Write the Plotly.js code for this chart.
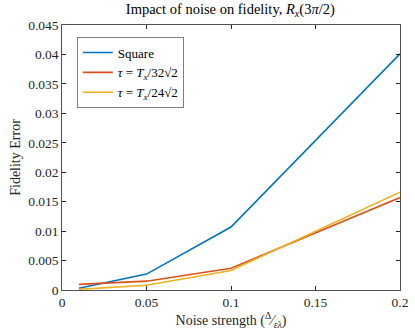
<!DOCTYPE html>
<html>
<head>
<meta charset="utf-8">
<script src="https://cdn.plot.ly/plotly-3.0.1.min.js"></script>
<style>
  html, body { margin: 0; padding: 0; background: #fff; }
  #grafico { width: 415px; height: 336px; }
</style>
</head>
<body>
<div id="grafico"></div>
<script>
// valores
var noise = [0.01, 0.05, 0.1, 0.2];
var errSquare = [0.0003, 0.0027, 0.0107, 0.0401];
var errTau32 = [0.00095, 0.0015, 0.0037, 0.0157];
var errTau24 = [0.0001, 0.0008, 0.0033, 0.0166];

var xTicks = [0, 0.05, 0.1, 0.15, 0.2];
var xLabels = ['0', '0.05', '0.1', '0.15', '0.2'];
var yTicks = [0, 0.005, 0.01, 0.015, 0.02, 0.025, 0.03, 0.035, 0.04, 0.045];
var yLabels = ['0', '0.005', '0.01', '0.015', '0.02', '0.025', '0.03', '0.035', '0.04', '0.045'];

var nomes = [
    'Square',
    '<i>τ</i> = <i>T</i><sub><i>x</i></sub>/32√2',
    '<i>τ</i> = <i>T</i><sub><i>x</i></sub>/24√2'
];
var cores = ['#0072BD', '#D95319', '#EDB120'];
var series = [errSquare, errTau32, errTau24];

var dados = [];
for (var i = 0; i < series.length; i++) {
    dados.push({
        x: noise,
        y: series[i],
        name: nomes[i],
        mode: 'lines',
        type: 'scatter',
        line: {color: cores[i], width: 1.6}
    });
}

var familia = 'Liberation Serif, DejaVu Serif, serif';
var fonte = {family: familia, size: 13.5, color: '#262626'};

var eixo = {
    showgrid: false,
    zeroline: false,
    showline: true,
    mirror: 'ticks',
    linecolor: '#262626',
    linewidth: 0.8,
    ticks: 'inside',
    ticklen: 4,
    tickcolor: '#262626',
    tickfont: fonte
};

var estilo = {
    width: 415,
    height: 336,
    paper_bgcolor: '#fff',
    plot_bgcolor: '#fff',
    margin: {l: 62, r: 15, t: 25, b: 46},
    font: fonte,
    showlegend: true,
    title: {
        text: 'Impact of noise on fidelity, <i>R</i><sub><i>x</i></sub>(3<i>π</i>/2)',
        font: {family: familia, size: 14.5, color: '#000'},
        x: 0.555, xanchor: 'center', y: 0.99, yanchor: 'top'
    },
    xaxis: Object.assign({}, eixo, {
        range: [0, 0.2],
        tickvals: xTicks,
        ticktext: xLabels,
        title: {text: 'Noise strength (<sup>Δ</sup>⁄<sub><i>ε</i><i>λ</i></sub>)', font: {family: familia, size: 14, color: '#262626'}, standoff: 4}
    }),
    yaxis: Object.assign({}, eixo, {
        range: [0, 0.045],
        tickvals: yTicks,
        ticktext: yLabels,
        title: {text: 'Fidelity Error', font: {family: familia, size: 14, color: '#262626'}, standoff: 4}
    }),
    legend: {
        x: 0.045, y: 0.955, xanchor: 'left', yanchor: 'top',
        bgcolor: '#fff',
        bordercolor: '#262626',
        borderwidth: 0.6,
        font: {family: familia, size: 13, color: '#000'},
        tracegroupgap: 0,
        itemwidth: 30
    }
};

Plotly.newPlot('grafico', dados, estilo, {displayModeBar: false, staticPlot: true});
</script>
</body>
</html>
